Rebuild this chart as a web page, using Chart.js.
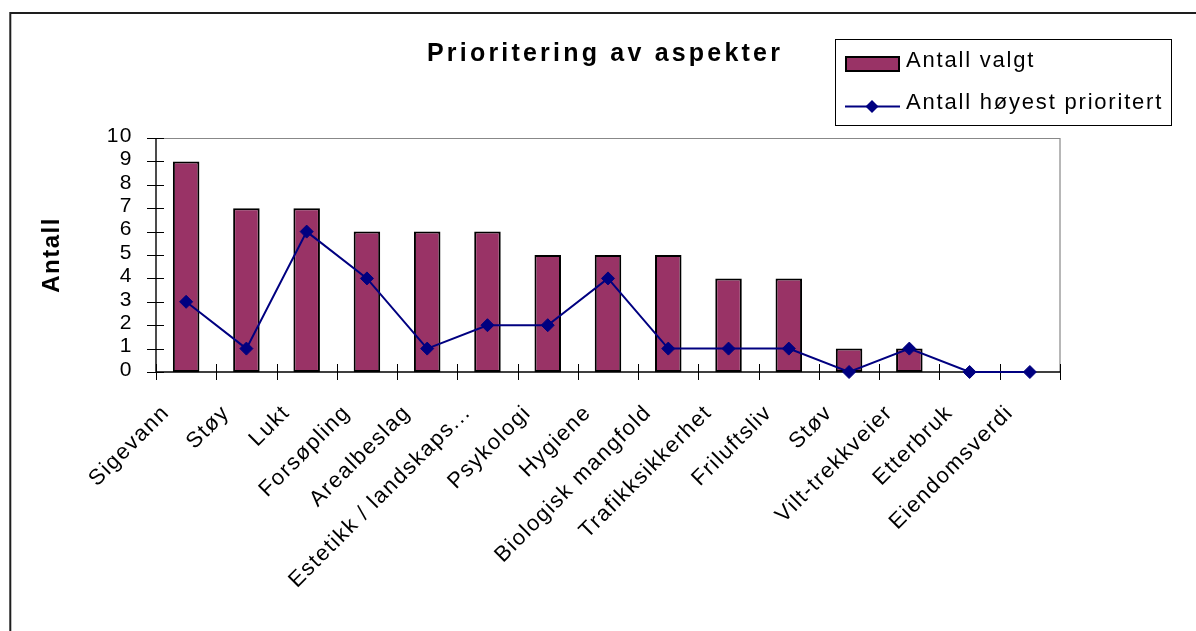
<!DOCTYPE html>
<html>
<head>
<meta charset="utf-8">
<script src="https://cdn.jsdelivr.net/npm/chart.js@4.4.1/dist/chart.umd.min.js"></script>
<style>
  html, body { margin: 0; padding: 0; background: #fff; }
  canvas { display: block; }
</style>
</head>
<body>
<canvas id="chart" width="1196" height="631"></canvas>
<script>
// Aspects and how often each was chosen / ranked highest
const categories = [
  'Sigevann', 'Støy', 'Lukt', 'Forsøpling', 'Arealbeslag',
  'Estetikk / landskaps...', 'Psykologi', 'Hygiene', 'Biologisk mangfold',
  'Trafikksikkerhet', 'Friluftsliv', 'Støv', 'Vilt-trekkveier', 'Etterbruk', 'Eiendomsverdi'
];
const antallValgt = [9, 7, 7, 6, 6, 6, 5, 5, 5, 4, 4, 1, 1, 0, 0];
const antallHoyestPrioritert = [3, 1, 6, 4, 1, 2, 2, 4, 1, 1, 1, 0, 1, 0, 0];
const yTickValues = [0, 1, 2, 3, 4, 5, 6, 7, 8, 9, 10];
const seriesNames = ['Antall valgt', 'Antall høyest prioritert'];
const chartTitle = 'Prioritering av aspekter';
const yAxisTitle = 'Antall';

const FONT = '"Liberation Sans", Arial, Helvetica, sans-serif';
const BAR_FILL = '#993366';
const LINE_COLOR = '#000080';

function diamond(ctx, cx, cy, r) {
  ctx.beginPath();
  ctx.moveTo(cx - r, cy);
  ctx.lineTo(cx, cy - r);
  ctx.lineTo(cx + r, cy);
  ctx.lineTo(cx, cy + r);
  ctx.closePath();
  ctx.fill();
}

// Outer frame, plot border, axis lines with crossing tick marks, title and legend
const chartChrome = {
  id: 'chartChrome',
  beforeDraw(chart) {
    const ctx = chart.ctx;
    ctx.letterSpacing = '1.5px';
    ctx.save();
    ctx.strokeStyle = '#1e1e1e';
    ctx.lineWidth = 2;
    ctx.strokeRect(10.3, 13, 1400, 900);
    ctx.restore();
  },
  beforeDatasetsDraw(chart) {
    const { ctx, chartArea: a, scales: { x, y } } = chart;
    ctx.save();
    // plot border (top / right)
    ctx.strokeStyle = '#888888';
    ctx.lineWidth = 1.2;
    ctx.beginPath();
    ctx.moveTo(a.left, a.top + 0.5);
    ctx.lineTo(a.right, a.top + 0.5);
    ctx.lineTo(a.right, a.bottom);
    ctx.stroke();

    // axis lines
    ctx.strokeStyle = '#000';
    ctx.lineWidth = 1.4;
    ctx.beginPath();
    ctx.moveTo(a.left, a.top);
    ctx.lineTo(a.left, a.bottom);
    ctx.lineTo(a.right, a.bottom);
    ctx.stroke();

    // tick marks crossing the axes
    ctx.lineWidth = 1;
    ctx.beginPath();
    yTickValues.forEach(v => {
      const py = Math.round(y.getPixelForValue(v)) + 0.5;
      ctx.moveTo(a.left - 9, py);
      ctx.lineTo(a.left + 8, py);
    });
    for (let i = 0; i <= categories.length; i++) {
      const px = Math.round(x.getPixelForValue(i - 0.5)) + 0.5;
      ctx.moveTo(px, a.bottom - 8);
      ctx.lineTo(px, a.bottom + 8);
    }
    ctx.stroke();
    ctx.restore();
  },
  afterDraw(chart) {
    const ctx = chart.ctx;
    ctx.save();
    ctx.fillStyle = '#000';
    ctx.textAlign = 'left';
    ctx.textBaseline = 'alphabetic';

    // title
    ctx.font = 'bold 25px ' + FONT;
    ctx.letterSpacing = '3.2px';
    ctx.fillText(chartTitle, 427, 60.5);

    // legend box
    ctx.letterSpacing = '1.8px';
    ctx.strokeStyle = '#000';
    ctx.lineWidth = 1;
    ctx.strokeRect(835.5, 39.5, 336, 86);

    // bar entry
    ctx.fillStyle = BAR_FILL;
    ctx.fillRect(845, 56, 55, 16);
    ctx.lineWidth = 2;
    ctx.strokeRect(846, 57, 53, 14);
    ctx.fillStyle = '#000';
    ctx.font = '22px ' + FONT;
    ctx.fillText(seriesNames[0], 906, 66.7);

    // line entry
    ctx.strokeStyle = LINE_COLOR;
    ctx.lineWidth = 2;
    ctx.beginPath();
    ctx.moveTo(845, 106.5);
    ctx.lineTo(900, 106.5);
    ctx.stroke();
    ctx.fillStyle = LINE_COLOR;
    diamond(ctx, 872, 106.5, 6.5);
    ctx.fillStyle = '#000';
    ctx.fillText(seriesNames[1], 906, 109.3);
    ctx.restore();
  }
};

new Chart(document.getElementById('chart'), {
  type: 'bar',
  data: {
    labels: categories,
    datasets: [
      {
        type: 'line',
        label: seriesNames[1],
        data: antallHoyestPrioritert,
        order: 0,
        borderColor: LINE_COLOR,
        backgroundColor: LINE_COLOR,
        borderWidth: 2,
        tension: 0,
        pointStyle: 'rectRot',
        pointRadius: 6.5,
        pointBorderWidth: 1,
        pointBackgroundColor: LINE_COLOR,
        pointBorderColor: LINE_COLOR,
        clip: false
      },
      {
        type: 'bar',
        label: seriesNames[0],
        data: antallValgt,
        order: 1,
        backgroundColor: BAR_FILL,
        borderColor: '#000',
        borderWidth: 2,
        borderSkipped: false,
        categoryPercentage: 1,
        barPercentage: 0.44
      }
    ]
  },
  options: {
    responsive: false,
    animation: false,
    events: [],
    layout: { padding: { top: 138, right: 136, left: 0, bottom: 0 } },
    plugins: {
      legend: { display: false },
      title: { display: false },
      tooltip: { enabled: false }
    },
    scales: {
      x: {
        grid: { display: false, drawTicks: false, offset: true },
        border: { display: false },
        ticks: {
          autoSkip: false,
          maxRotation: 45,
          minRotation: 45,
          padding: 28,
          labelOffset: -20,
          color: '#000',
          font: { family: FONT, size: 22 }
        },
        afterFit(scale) { scale.height = 259; }
      },
      y: {
        min: 0,
        max: 10,
        grid: { display: false, drawTicks: false },
        border: { display: false },
        ticks: {
          autoSkip: false,
          stepSize: 1,
          padding: 23,
          labelOffset: -2,
          color: '#000',
          font: { family: FONT, size: 21 }
        },
        title: {
          display: true,
          text: yAxisTitle,
          color: '#000',
          font: { family: FONT, size: 24, weight: 'bold' },
          padding: { top: 38, bottom: 0 }
        },
        afterFit(scale) { scale.width = 156; }
      }
    }
  },
  plugins: [chartChrome]
});
</script>
</body>
</html>
